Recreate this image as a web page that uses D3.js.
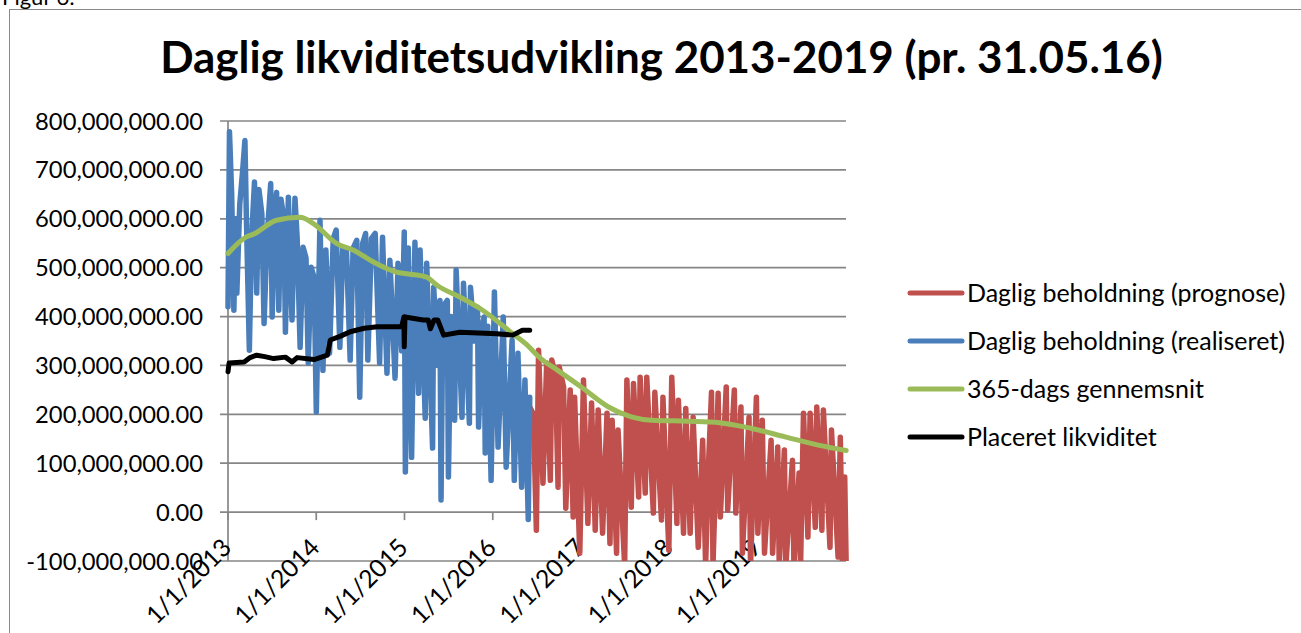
<!DOCTYPE html>
<html>
<head>
<meta charset="utf-8">
<script src="https://cdn.jsdelivr.net/npm/d3@7"></script>
<style>
  body { margin: 0; background: #fff; }
  svg { display: block; font-family: Lato, "Noto Sans", sans-serif; }
</style>
</head>
<body>
<div class="container"></div>
<script>
// values in millions (DKK), x as months after 1/1/2013
var prognose = [
  [41.0,215],[41.5,200],[41.9,-37],[42.2,331],[42.8,59],[43.3,305],[43.8,65],[44.0,311],[44.5,280],[44.85,51],
  [45.0,297],[45.6,256],[45.9,8],[46.5,250],[46.9,-10],[47.1,235],[47.8,-84],[48.3,270],[48.9,-23],[49.4,223],
  [49.9,-37],[50.3,209],[50.9,-43],[51.5,202],[51.9,-64],[52.2,188],[52.8,-84],[53.0,168],[53.9,-110],[54.2,270],
  [54.8,10],[55.1,263],[55.8,31],[56.0,276],[56.7,39],[56.9,276],[57.8,-2],[58.0,245],[58.9,-16],[59.1,235],
  [59.9,-78],[60.3,276],[61.0,-23],[61.2,229],[61.9,-43],[62.2,212],[62.8,-43],[63.2,194],[63.9,-72],[64.5,147],
  [64.9,-110],[65.3,100],[65.7,245],[65.9,-110],[66.6,243],[66.9,-10],[67.7,256],[67.9,4],[68.8,250],[69.0,-2],
  [69.7,215],[69.9,-84],[70.8,194],[71.0,-110],[71.8,235],[72.0,-43],[72.6,188],[72.9,-84],[73.8,147],[74.0,-84],
  [74.7,133],[74.9,-110],[75.6,127],[75.8,-110],[76.7,106],[76.9,-110],[77.6,80],[77.8,-110],[78.2,202],[78.8,-51],
  [79.1,202],[79.8,-31],[80.0,215],[80.7,-37],[80.9,209],[81.8,-72],[82.0,168],[82.9,-92],[83.2,153],[83.5,-110],
  [83.8,72],[84.0,-110]
];
var realiseret = [
  [0.0,420],[0.2,778],[0.5,650],[0.8,413],[1.0,600],[1.2,448],[1.6,630],[2.0,700],[2.3,760],[2.5,600],
  [2.9,331],[3.2,560],[3.6,675],[3.9,448],[4.2,660],[4.6,610],[4.9,386],[5.3,560],[5.8,672],[6.0,399],
  [6.3,600],[6.6,654],[6.9,413],[7.2,640],[7.6,600],[7.8,368],[8.2,644],[8.7,393],[9.1,642],[9.4,560],
  [9.8,337],[10.2,542],[10.6,520],[10.9,305],[11.3,501],[11.7,480],[12.0,205],[12.5,597],[12.9,290],[13.3,536],
  [13.8,325],[14.3,560],[14.7,577],[15.2,337],[15.6,540],[16.1,536],[16.6,311],[17.0,540],[17.5,556],[17.9,235],
  [18.3,550],[18.7,570],[19.0,311],[19.5,560],[20.0,570],[20.6,305],[21.0,562],[21.6,284],[22.0,515],[22.7,274],
  [23.1,509],[23.6,330],[23.95,573],[24.1,82],[24.5,540],[24.95,112],[25.4,552],[25.9,243],[26.1,536],[26.8,192],
  [27.0,509],[27.8,131],[27.95,460],[28.5,300],[28.8,433],[28.95,25],[29.2,420],[29.8,433],[29.95,72],[30.3,400],
  [30.8,188],[31.0,495],[31.8,194],[32.0,468],[32.8,182],[32.95,460],[33.5,350],[33.9,419],[34.05,174],[34.5,380],
  [34.8,399],[34.95,121],[35.3,380],[35.75,65],[36.2,450],[36.7,133],[37.4,399],[37.8,92],[38.6,352],[38.9,65],
  [39.4,325],[39.9,51],[40.35,270],[40.8,-15],[41.0,235]
];
var gennemsnit = [
  [0,529],[2.5,563],[3.4,568],[6.6,597],[9.8,603],[11.6,590],[14.8,549],[17.0,536],[19.7,512],[20.6,505],
  [22.9,491],[25.1,486],[26.9,481],[28.6,462],[31.5,440],[34.4,415],[38.7,365],[40.4,345],[42.5,314],[44.8,290],
  [48.0,256],[51.7,215],[54.8,195],[57.6,188],[62.5,186],[66.8,183],[71.2,171],[75.7,154],[80.2,137],[84,126]
];
var placeret = [
  [0,287],[0.15,305],[2.2,307],[3.0,316],[3.9,321],[5.0,318],[6.2,314],[7.8,317],[8.7,307],[9.4,316],
  [11.7,312],[13.5,321],[13.9,352],[15.3,360],[16.6,369],[18.5,376],[20.3,379],[23.6,379],[23.9,399],[23.95,338],
  [24.05,399],[26.5,393],[27.2,393],[27.5,375],[28.0,393],[28.5,393],[29.3,362],[31.5,368],[36.5,365],[38.7,362],
  [40.0,372],[41.0,372]
];
var yTicks = [-100, 0, 100, 200, 300, 400, 500, 600, 700, 800];
var xTickYears = [2013, 2014, 2015, 2016, 2017, 2018, 2019];
var seriesNames = ["Daglig beholdning (prognose)", "Daglig beholdning (realiseret)", "365-dags gennemsnit", "Placeret likviditet"];
var seriesColors = ["#C0504D", "#4A7EBB", "#9BBB59", "#000000"];
var titleText = "Daglig likviditetsudvikling 2013-2019 (pr. 31.05.16)";

var W = 1301, H = 633;
var plotLeft = 228, plotRight = 846, plotTop = 121, plotBottom = 561;
var start = new Date(2013, 0, 1);

function toDate(m){
  return new Date(start.getTime() + m * 30.4375 * 864e5);
}

var svg = d3.select('.container').append('svg').attr('width', W).attr('height', H);

function fitSize(txt, weight, target){
  var t = svg.append('text').attr('font-size', 100).attr('font-weight', weight).text(txt);
  var w = t.node().getComputedTextLength();
  t.remove();
  return 100 * target / w;
}

var x = d3.scaleTime().domain([new Date(2013, 0, 1), new Date(2020, 0, 1)]).range([plotLeft, plotRight]);
var y = d3.scaleLinear().domain([-100, 800]).range([plotBottom, plotTop]);

var loc = d3.formatLocale({decimal: ".", thousands: ",", grouping: [3], currency: ["", ""], minus: "-"});
var fmt = loc.format(",.2f");
var dateFmt = d3.timeFormat("%-m/%-d/%Y");

// frame
svg.append('rect').attr('x', 9.5).attr('y', 9.5).attr('width', W + 10).attr('height', H + 10)
  .attr('fill', 'none').attr('stroke', '#8a8a8a').attr('stroke-width', 1);

svg.append('text').attr('x', 2).attr('y', 5).attr('font-size', 22).attr('fill', '#000').text("Figur 6:");

// title
var titleSize = fitSize(titleText, 'bold', 1003);
svg.append('text').attr('x', 661.5).attr('y', 73).attr('text-anchor', 'middle')
  .attr('font-weight', 'bold').attr('font-size', titleSize).text(titleText);

// gridlines + y labels
var labSize = fitSize(fmt(800e6), 'normal', 168);
var yAxis = svg.append('g');
yAxis.selectAll('line').data(yTicks).enter().append('line')
  .attr('x1', 220).attr('x2', plotRight)
  .attr('y1', function(d){ return y(d); }).attr('y2', function(d){ return y(d); })
  .attr('stroke', '#868686').attr('stroke-width', 1.7);
yAxis.selectAll('text').data(yTicks).enter().append('text')
  .attr('x', 203).attr('y', function(d){ return y(d); }).attr('dy', '0.36em')
  .attr('text-anchor', 'end').attr('font-size', labSize).text(function(d){ return fmt(d * 1e6); });

// vertical axis line
svg.append('line').attr('x1', plotLeft).attr('x2', plotLeft).attr('y1', plotTop).attr('y2', plotBottom)
  .attr('stroke', '#868686').attr('stroke-width', 1.7);

// x ticks at zero line, labels at bottom
var xDates = xTickYears.map(function(yr){ return new Date(yr, 0, 1); });
var xAxis = svg.append('g');
xAxis.selectAll('line').data(xDates).enter().append('line')
  .attr('x1', function(d){ return x(d); }).attr('x2', function(d){ return x(d); })
  .attr('y1', y(0)).attr('y2', y(0) + 8)
  .attr('stroke', '#868686').attr('stroke-width', 1.7);
xAxis.selectAll('text').data(xDates).enter().append('text')
  .attr('text-anchor', 'end').attr('font-size', labSize * 1.04)
  .attr('transform', function(d){ return 'translate(' + (x(d) + 5) + ',' + 549 + ') rotate(-45)'; })
  .text(function(d){ return dateFmt(d); });

// clip
svg.append('clipPath').attr('id', 'plot').append('rect')
  .attr('x', plotLeft - 4).attr('y', plotTop).attr('width', plotRight - plotLeft + 8).attr('height', plotBottom - plotTop);

var line = d3.line()
  .x(function(d){ return x(toDate(d[0])); })
  .y(function(d){ return y(d[1]); });
var smooth = d3.line().curve(d3.curveMonotoneX)
  .x(function(d){ return x(toDate(d[0])); })
  .y(function(d){ return y(d[1]); });

var plot = svg.append('g').attr('clip-path', 'url(#plot)');
var all = [prognose, realiseret, gennemsnit, placeret];
all.forEach(function(s, i){
  plot.append('path').datum(s)
    .attr('d', i == 2 ? smooth : line)
    .attr('fill', 'none').attr('stroke', seriesColors[i]).attr('stroke-width', i < 2 ? 5.5 : 5)
    .attr('stroke-linejoin', 'round').attr('stroke-linecap', 'round');
});

// legend
var legSize = fitSize(seriesNames[1], 'normal', 318);
var leg = svg.append('g').selectAll('g').data(seriesNames).enter().append('g')
  .attr('transform', function(d, i){ return 'translate(0,' + (293 + i * 48) + ')'; });
leg.append('line').attr('x1', 910).attr('x2', 962).attr('y1', 0).attr('y2', 0)
  .attr('stroke', function(d, i){ return seriesColors[i]; }).attr('stroke-width', 5)
  .attr('stroke-linecap', 'round');
leg.append('text').attr('x', 967).attr('y', 0).attr('dy', '0.36em').attr('font-size', legSize)
  .text(function(d){ return d; });
</script>
</body>
</html>
